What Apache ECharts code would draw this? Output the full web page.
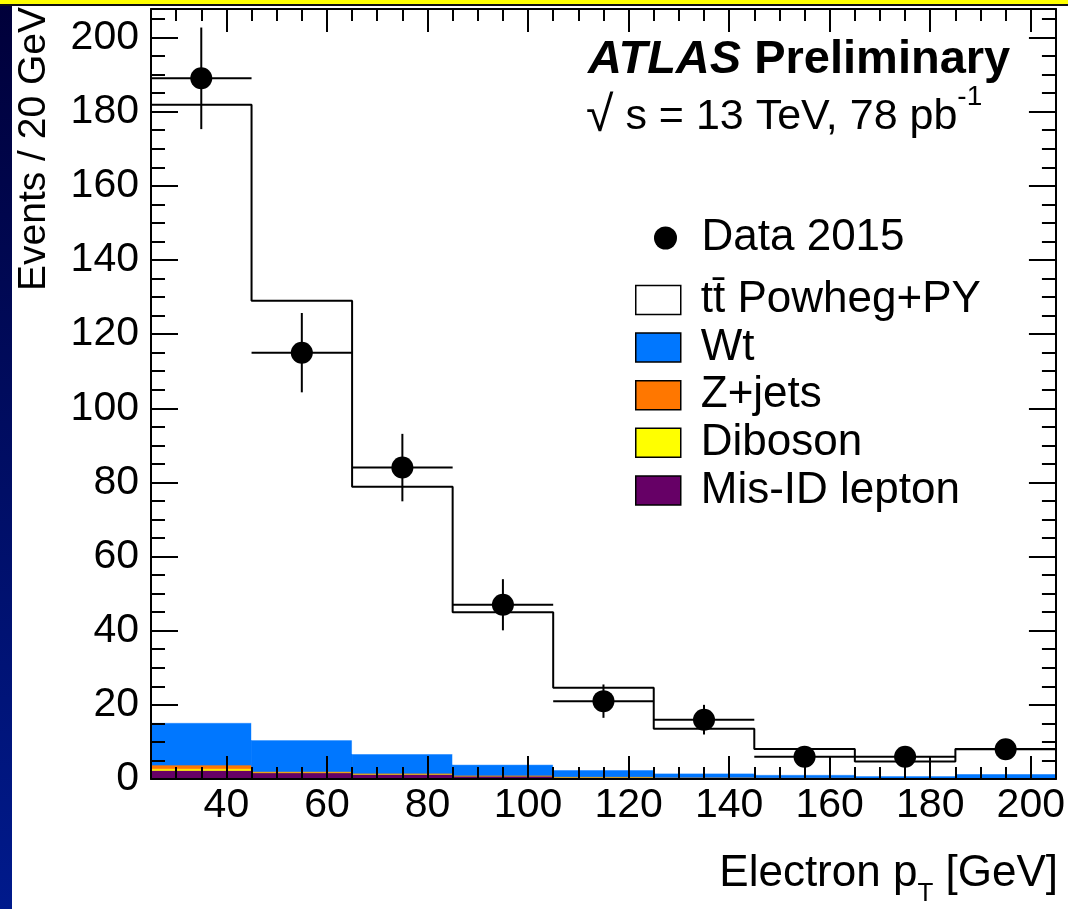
<!DOCTYPE html>
<html>
<head>
<meta charset="utf-8">
<script src="https://cdn.jsdelivr.net/npm/echarts@6/dist/echarts.min.js"></script>
<style>
html,body{margin:0;padding:0;background:#fff;}
#chart{width:1068px;height:909px;}
</style>
</head>
<body>
<div id="chart"></div>
<script>
// ---- data ----
const binEdges   = [25, 45, 65, 85, 105, 125, 145, 165, 185, 205];
const binCenters = [35, 55, 75, 95, 115, 135, 155, 175, 195];
const dataCounts = [189, 115, 84, 47, 21, 16, 6, 6, 8];
const dataErr    = [13.7, 10.7, 9.1, 6.9, 4.5, 4.0, 2.4, 2.4, 2.8];
const misID      = [2.3, 1.7, 1.3, 0.8, 0.5, 0.35, 0.25, 0.2, 0.2];
const diboson    = [0.45, 0.15, 0.1, 0.08, 0.06, 0.04, 0.03, 0.02, 0.03];
const zjets      = [1.0, 0.15, 0.15, 0.1, 0.08, 0.05, 0.04, 0.03, 0.04];
const wt         = [11.4, 8.5, 5.2, 2.9, 1.8, 1.1, 0.8, 0.55, 1.1];
const ttbar      = [166.7, 118.5, 72.1, 41.1, 22.2, 12.0, 7.0, 3.9, 6.7];
const xRange     = [25, 205];
const yRange     = [0, 207.7];

const NAME_DATA = 'Data 2015';
const NAME_TT = 'tt\u0304 Powheg+PY';
const stackDefs = [
  {name: 'Mis-ID lepton', values: misID,   color: '#660066'},
  {name: 'Diboson',       values: diboson, color: '#ffff00'},
  {name: 'Z+jets',        values: zjets,   color: '#ff7700'},
  {name: 'Wt',            values: wt,      color: '#0077ff'},
  {name: NAME_TT,         values: ttbar,   color: '#ffffff'}
];

const FONT = "'Liberation Sans', Arial, Helvetica, sans-serif";

// cumulative stacking
const cum = binCenters.map(() => 0);
const stackSeries = stackDefs.map(def => {
  const d = def.values.map((v, i) => {
    const base = cum[i];
    cum[i] += v;
    return [binEdges[i], binEdges[i + 1], base, cum[i]];
  });
  return {
    type: 'custom',
    name: def.name,
    xAxisIndex: 0, yAxisIndex: 0,
    clip: true,
    itemStyle: {color: def.color, opacity: 1},
    data: d,
    z: 2,
    renderItem: function (params, api) {
      const p0 = api.coord([api.value(0), api.value(3)]);
      const p1 = api.coord([api.value(1), api.value(2)]);
      const c = api.visual('color');
      return {
        type: 'rect',
        shape: {x: p0[0], y: p0[1], width: p1[0] - p0[0], height: p1[1] - p0[1]},
        style: {fill: c, stroke: c, lineWidth: 0.6}
      };
    }
  };
});

// total outline (step line)
const totalLine = binEdges.map((e, i) => [e, cum[Math.min(i, cum.length - 1)]]);

const errData = binCenters.map((x, i) => [x, binEdges[i], binEdges[i + 1], dataCounts[i], dataErr[i]]);

const chart = echarts.init(document.getElementById('chart'), null, {renderer: 'canvas'});

const xAxisBase = {
  type: 'value', min: xRange[0], max: xRange[1],
  splitNumber: 9, minInterval: 20, maxInterval: 20,
  splitLine: {show: false}, z: 10,
  axisLine: {show: true, onZero: false, lineStyle: {color: '#000', width: 2}},
  axisTick: {show: true, inside: true, length: 23, lineStyle: {color: '#000', width: 2}},
  minorTick: {show: true, splitNumber: 4, length: 12, lineStyle: {color: '#000', width: 2}}
};
const yAxisBase = {
  type: 'value', min: yRange[0], max: yRange[1], interval: 20,
  splitLine: {show: false}, z: 10,
  axisLine: {show: true, onZero: false, lineStyle: {color: '#000', width: 2}},
  axisTick: {show: true, inside: true, length: 27, lineStyle: {color: '#000', width: 2}},
  minorTick: {show: true, splitNumber: 4, length: 14, lineStyle: {color: '#000', width: 2}}
};
const lbl = v => (Math.abs(v % 20) < 1e-6 ? String(v) : '');

const option = {
  animation: false,
  backgroundColor: '#ffffff',
  grid: {left: 151, right: 8, top: 9, bottom: 130, show: false},
  xAxis: [
    Object.assign({}, xAxisBase, {position: 'bottom',
      axisLabel: {show: true, margin: 6, color: '#000', fontFamily: FONT, fontSize: 41, formatter: lbl, showMinLabel: false, showMaxLabel: false, hideOverlap: false}}),
    Object.assign({}, xAxisBase, {position: 'top', axisLabel: {show: false}})
  ],
  yAxis: [
    Object.assign({}, yAxisBase, {position: 'left',
      axisLabel: {show: true, margin: 12, color: '#000', fontFamily: FONT, fontSize: 41, formatter: lbl, showMaxLabel: false, hideOverlap: false}}),
    Object.assign({}, yAxisBase, {position: 'right', axisLabel: {show: false}})
  ],
  legend: [
    {
      data: [{name: NAME_DATA, icon: 'circle', itemStyle: {color: '#000', opacity: 1}}],
      left: 654, top: 216, orient: 'vertical', padding: 0,
      itemWidth: 62, itemHeight: 23, selectedMode: false,
      textStyle: {color: '#000', fontFamily: FONT, fontSize: 44}
    },
    {
      data: [NAME_TT, 'Wt', 'Z+jets', 'Diboson', 'Mis-ID lepton'].map(n => ({name: n, icon: 'rect'})),
      left: 635, top: 278, orient: 'vertical', padding: 0,
      itemWidth: 45, itemHeight: 29, itemGap: 3.6, selectedMode: false,
      itemStyle: {borderColor: '#000', borderWidth: 1.5},
      textStyle: {color: '#000', fontFamily: FONT, fontSize: 44, padding: [0, 0, 0, 15]}
    }
  ],
  graphic: [
    {type: 'rect', left: 0, top: 0, shape: {width: 1068, height: 4}, style: {fill: '#ffff00'}, z: 100},
    {type: 'rect', left: 0, top: 4, shape: {width: 1068, height: 2}, style: {fill: '#111111'}, z: 100},
    {type: 'rect', left: 0, top: 6, shape: {width: 12, height: 903},
      style: {fill: new echarts.graphic.LinearGradient(0, 0, 0, 1, [
        {offset: 0, color: '#00003a'}, {offset: 1, color: '#001a8c'}])}, z: 100},
    {type: 'text', x: 588, y: 60, z: 100,
      style: {text: '{a|ATLAS}{b| Preliminary}', align: 'left', verticalAlign: 'middle',
        rich: {
          a: {fontFamily: FONT, fontSize: 47, fontWeight: 'bold', fontStyle: 'italic', fill: '#000'},
          b: {fontFamily: FONT, fontSize: 47, fontWeight: 'bold', fill: '#000'}
        }}},
    {type: 'text', x: 586, y: 83, z: 100,
      style: {text: '{r|\u221A}{m| s = 13 TeV, 78 pb}{s|-1}', align: 'left', verticalAlign: 'top',
        rich: {
          r: {fontFamily: FONT, fontSize: 50, lineHeight: 68, fill: '#000'},
          m: {fontFamily: FONT, fontSize: 43, lineHeight: 68, fill: '#000'},
          s: {fontFamily: FONT, fontSize: 28, lineHeight: 28, verticalAlign: 'top', fill: '#000'}
        }}},
    {type: 'text', x: 34, y: 7, rotation: Math.PI / 2, z: 100,
      style: {text: 'Events / 20 GeV', align: 'right', verticalAlign: 'middle',
        fontFamily: FONT, fontSize: 39, fill: '#000'}},
    {type: 'text', x: 1058, y: 841, z: 100,
      style: {text: '{m|Electron p}{s|T}{m| [GeV]}', align: 'right', verticalAlign: 'top',
        rich: {
          m: {fontFamily: FONT, fontSize: 44, lineHeight: 66, fill: '#000'},
          s: {fontFamily: FONT, fontSize: 26, lineHeight: 26, verticalAlign: 'bottom', fill: '#000'}
        }}}
  ],
  series: stackSeries.concat([
    {
      type: 'line', name: 'total', xAxisIndex: 0, yAxisIndex: 0,
      step: 'end', showSymbol: false, symbol: 'none', silent: true, z: 3,
      lineStyle: {color: '#000', width: 2, opacity: 1},
      data: totalLine
    },
    {
      type: 'custom', name: 'errors', xAxisIndex: 0, yAxisIndex: 0, z: 4, silent: true,
      data: errData,
      renderItem: function (params, api) {
        const y = api.value(3), e = api.value(4), x = api.value(0);
        const a = api.coord([api.value(1), y]);
        const b = api.coord([api.value(2), y]);
        const c = api.coord([x, y + e]);
        const d = api.coord([x, y - e]);
        return {type: 'group', children: [
          {type: 'line', shape: {x1: a[0], y1: a[1], x2: b[0], y2: b[1]}, style: {stroke: '#000', lineWidth: 2}},
          {type: 'line', shape: {x1: c[0], y1: c[1], x2: d[0], y2: d[1]}, style: {stroke: '#000', lineWidth: 2}}
        ]};
      }
    },
    {
      type: 'scatter', name: NAME_DATA, xAxisIndex: 0, yAxisIndex: 0, z: 5,
      symbol: 'circle', symbolSize: 22, itemStyle: {color: '#000', opacity: 1},
      data: binCenters.map((x, i) => [x, dataCounts[i]])
    }
  ])
};

chart.setOption(option);
</script>
</body>
</html>
